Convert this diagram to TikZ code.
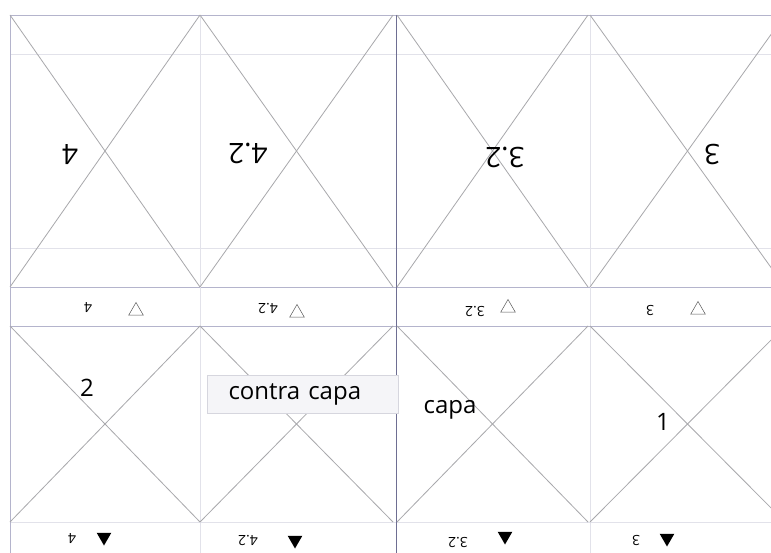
\documentclass[tikz,border=0pt]{standalone}
\usepackage{fontspec}
\setmainfont{Open Sans}
\usetikzlibrary{shapes.geometric}
\definecolor{lnX}{HTML}{A8A8AC}
\definecolor{bdrL}{HTML}{B4B4CC}
\definecolor{bdrD}{HTML}{6E6E92}
\definecolor{guide}{HTML}{E2E2EA}
\definecolor{fBox}{HTML}{F5F5F8}
\definecolor{bBox}{HTML}{D6D6DE}
\tikzset{
  xline/.style={draw=lnX, line width=0.8pt},
  frame/.style={draw=bdrL, line width=0.9pt},
  guideline/.style={draw=guide, line width=0.7pt},
  big/.style={font=\fontsize{28}{30}\selectfont, rotate=180, inner sep=0pt},
  tiny/.style={font=\fontsize{14}{16}\selectfont, rotate=180, inner sep=0pt},
  mid/.style={font=\fontsize{24}{26}\selectfont, inner sep=0pt},
  tri/.style={regular polygon, regular polygon sides=3, minimum size=17pt, inner sep=0pt},
  triO/.style={tri, draw=black!65, line width=0.5pt},
  triF/.style={tri, fill=black, shape border rotate=180},
}

\begin{document}
\begin{tikzpicture}[x=1pt, y=-1pt]
\useasboundingbox (0,0) rectangle (771,553);
\fill[white] (0,0) rectangle (771,553);
\clip (0,0) rectangle (771,553);

% ── guides and frame ────────────────────────────────────────────────────────
\draw[guideline] (10,54) -- (785,54);
\draw[guideline] (10,248) -- (785,248);
\draw[frame] (10,15) -- (785,15);
\draw[frame] (10,287) -- (785,287);
\draw[frame] (10,326) -- (785,326);
\draw[guideline] (10,522) -- (785,522);
\draw[frame] (10,15) -- (10,553);
\draw[guideline] (200,15) -- (200,553);
\draw[guideline] (590,15) -- (590,553);
\draw[draw=bdrD, line width=0.9pt] (396,15) -- (396,553);

% ── crosses ─────────────────────────────────────────────────────────────────
\foreach \l/\r in {10/200, 200/393, 397/588, 590/785}{
  \draw[xline] (\l,15) -- (\r,287);
  \draw[xline] (\r,15) -- (\l,287);
  \draw[xline] (\l,326) -- (\r,522);
  \draw[xline] (\r,326) -- (\l,522);
}

% ── upper pages (upside down) ───────────────────────────────────────────────
\node[big] (p4) at (70,155) {4};
\node[big] (p42) at (248,153) {4.2};
\node[big] (p32) at (505,157) {3.2};
\node[big] (p3) at (712,155) {3};

% ── fold strip ──────────────────────────────────────────────────────────────
\node[tiny] (s4) at (88,308) {4};
\node[triO] (o4) at (136,311) {};
\node[tiny] (s42) at (268,308) {4.2};
\node[triO] (o42) at (297,313) {};
\node[tiny] (s32) at (475,311) {3.2};
\node[triO] (o32) at (508,308) {};
\node[tiny] (s3) at (650,311) {3};
\node[triO] (o3) at (698,310) {};

% ── lower pages ─────────────────────────────────────────────────────────────
\node[mid] (q2) at (87,388) {2};
\node[draw=bBox, fill=fBox, line width=0.6pt, minimum height=38pt, inner xsep=21pt,
      text width=149pt, align=left, font=\fontsize{24}{26}\selectfont] (cc) at (303,394) {contra capa};
\node[mid] (qc) at (450,410) {capa};
\node[mid] (q1) at (663,422) {1};

% ── bottom strip ────────────────────────────────────────────────────────────
\node[tiny] (b4) at (72,539) {4};
\node[triF] (f4) at (104,537) {};
\node[tiny] (b42) at (248,540) {4.2};
\node[triF] (f42) at (295,540) {};
\node[tiny] (b32) at (458,542) {3.2};
\node[triF] (f32) at (505,536) {};
\node[tiny] (b3) at (636,540) {3};
\node[triF] (f3) at (667,538) {};

\end{tikzpicture}
\end{document}
